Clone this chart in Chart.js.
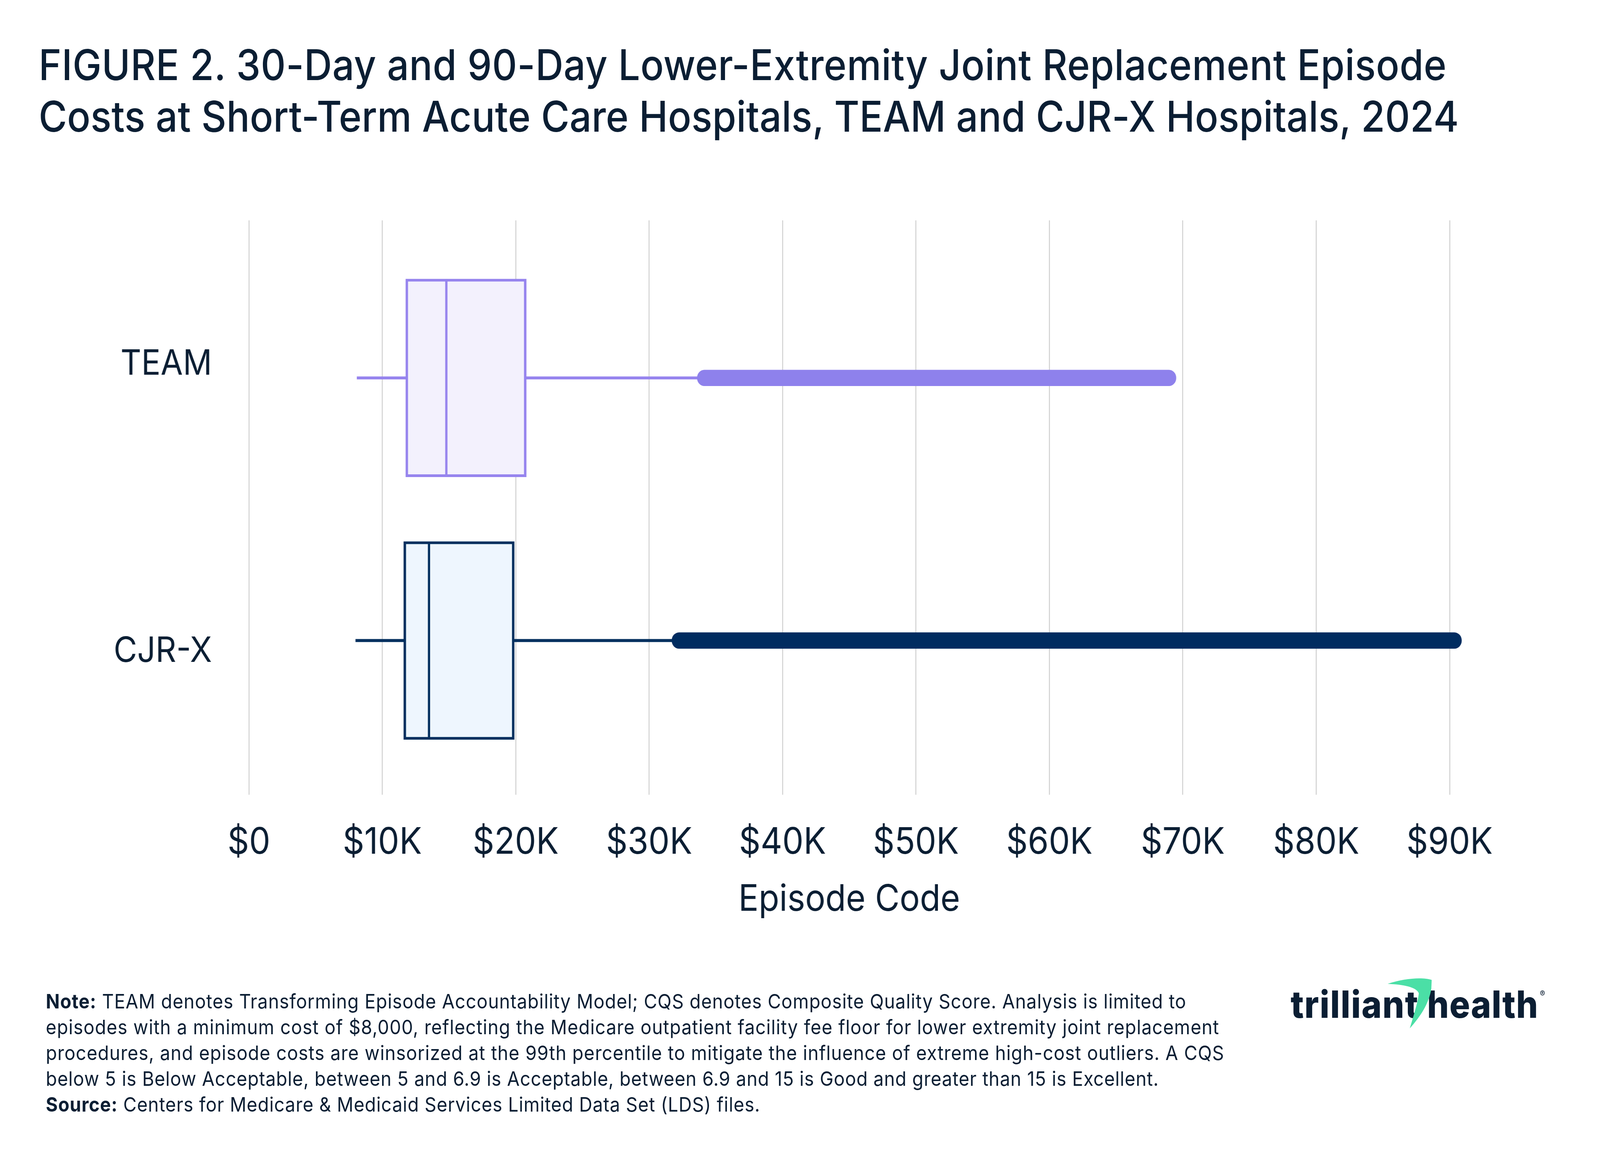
<!DOCTYPE html>
<html>
<head>
<meta charset="utf-8">
<script src="https://cdn.jsdelivr.net/npm/chart.js@4.4.1/dist/chart.umd.min.js"></script>
<style>
  html, body { margin: 0; padding: 0; background: #fff; overflow: hidden; }
  #page { width: 4468px; height: 2974px; position: absolute; left: 0; top: 0; transform-origin: 0 0;
          font-family: Inter, "DejaVu Sans", sans-serif; color: #0b1e33; }
  #chart { position: absolute; left: 0; top: 0; }
  .title { position: absolute; left: 108px; top: 100px; font-size: 108px; font-weight: 500;
           line-height: 132px; white-space: nowrap; }
  .note { position: absolute; left: 128px; top: 2530px; font-size: 51px; line-height: 66px;
          white-space: nowrap; }
  .note b { font-weight: 700; }
  .logo { position: absolute; top: 2522px; font-size: 96px; line-height: 96px; font-weight: 800;
          white-space: nowrap; }
  .reg { position: absolute; left: 4300px; top: 2530px; font-size: 22px; font-weight: 500; }
  #swoosh { position: absolute; left: 3860px; top: 2495px; }
</style>
</head>
<body>
<div id="page">
<canvas id="chart" width="4468" height="2974"></canvas>

<div class="title">
  <span class="fit" data-right="4040">FIGURE 2. 30-Day and 90-Day Lower-Extremity Joint Replacement Episode</span><br>
  <span class="fit" data-right="4074">Costs at Short-Term Acute Care Hospitals, TEAM and CJR-X Hospitals, 2024</span>
</div>

<div class="note">
  <span class="fit" data-right="3313"><b>Note:</b> TEAM denotes Transforming Episode Accountability Model; CQS denotes Composite Quality Score. Analysis is limited to</span><br>
  <span class="fit" data-right="3405">episodes with a minimum cost of $8,000, reflecting the Medicare outpatient facility fee floor for lower extremity joint replacement</span><br>
  <span class="fit" data-right="3419">procedures, and episode costs are winsorized at the 99th percentile to mitigate the influence of extreme high-cost outliers. A CQS</span><br>
  <span class="fit" data-right="3236">below 5 is Below Acceptable, between 5 and 6.9 is Acceptable, between 6.9 and 15 is Good and greater than 15 is Excellent.</span><br>
  <span class="fit" data-right="2123"><b>Source:</b> Centers for Medicare &amp; Medicaid Services Limited Data Set (LDS) files.</span>
</div>

<span class="logo fit" style="left:3604px" data-right="3962">trilliant</span>
<span class="logo fit" style="left:3985px" data-right="4296">health</span>
<span class="reg">®</span>
<svg id="swoosh" width="160" height="150" viewBox="3860 2495 160 150">
  <path fill="#4bdfa6" d="M3875 2518 C3920 2504 3972 2500 3998 2508 L3997 2530 C3990 2570 3966 2602 3937 2632 C3950 2592 3960 2562 3962 2542 C3955 2526 3920 2520 3875 2518 Z"/>
</svg>
</div>

<script>
// categories and box statistics (episode cost, $)
const categories = ['TEAM', 'CJR-X'];
const minCost = [8100, 8000];
const q1Cost = [11750, 11600];
const medianCost = [14800, 13500];
const q3Cost = [20800, 19900];
const upperWhisker = [33600, 31700];
const maxCost = [69500, 90900];

const xTickValues = [0, 10000, 20000, 30000, 40000, 50000, 60000, 70000, 80000, 90000];
const xTickLabels = ['$0', '$10K', '$20K', '$30K', '$40K', '$50K', '$60K', '$70K', '$80K', '$90K'];

const strokeColors = ['#9684ee', '#04305f'];
const fillColors = ['#f3f1fd', '#eef6fe'];
const heavyColors = ['#8e81ec', '#002c60'];
const textColor = '#0b1e33';

// the window may be narrower than the 4468x2974 design: stretch the design onto it
const sx = window.innerWidth / 4468;
const sy = window.innerHeight / 2974;
document.getElementById('page').style.transform = `scale(${sx}, ${sy})`;

const span = (lo, hi) => categories.map((c, i) => ({ y: i, x: [lo[i], hi[i]] }));

const common = { yAxisID: 'yb', xAxisID: 'x', grouped: false, borderSkipped: false };

new Chart(document.getElementById('chart'), {
  type: 'bar',
  data: {
    datasets: [
      { ...common, label: 'Q1-median', data: span(q1Cost, medianCost), order: 0,
        barThickness: 507, backgroundColor: fillColors, borderColor: strokeColors,
        borderWidth: { top: 7, bottom: 7, left: 7, right: 3.5 } },
      { ...common, label: 'median-Q3', data: span(medianCost, q3Cost), order: 0,
        barThickness: 507, backgroundColor: fillColors, borderColor: strokeColors,
        borderWidth: { top: 7, bottom: 7, left: 3.5, right: 7 } },
      { ...common, label: 'outliers', data: span(upperWhisker, maxCost), order: 1,
        barThickness: 41, borderRadius: 21, backgroundColor: heavyColors, borderWidth: 0, clip: false },
      { ...common, label: 'lower whisker', data: span(minCost, q1Cost), order: 2,
        barThickness: 7, backgroundColor: strokeColors, borderWidth: 0 },
      { ...common, label: 'upper whisker', data: span(q3Cost, upperWhisker), order: 2,
        barThickness: 7, backgroundColor: strokeColors, borderWidth: 0 }
    ]
  },
  options: {
    indexAxis: 'y',
    responsive: false,
    devicePixelRatio: 1,
    animation: false,
    layout: { padding: { top: 564, right: 420, bottom: 615, left: 0 } },
    plugins: { legend: { display: false }, tooltip: { enabled: false } },
    scales: {
      x: {
        type: 'linear', position: 'bottom', min: 0, max: 90000,
        afterBuildTicks: (s) => { s.ticks = xTickValues.map(v => ({ value: v })); },
        afterFit: (s) => { s.height = 325; },
        ticks: {
          callback: (v, i) => xTickLabels[i],
          font: { family: 'Inter', size: 94 }, color: textColor,
          padding: 66, maxRotation: 0, autoSkip: false, includeBounds: false
        },
        grid: { color: '#d5d5d5', lineWidth: 3, drawTicks: false },
        border: { display: false },
        title: { display: true, text: 'Episode Code', color: textColor,
                 font: { family: 'Inter', size: 94 }, padding: 0 }
      },
      y: {
        type: 'category', labels: categories, position: 'left', offset: true,
        afterFit: (s) => { s.width = 695; },
        ticks: { font: { family: 'Inter', size: 90 }, color: textColor, padding: 103 },
        grid: { display: false, drawTicks: false },
        border: { display: false }
      },
      yb: { type: 'linear', display: false, reverse: true, offset: false,
            grid: { offset: false }, min: -0.6, max: 1.587 }
    }
  }
});

// stretch each text line to its width in the original layout
document.fonts.ready.then(() => {
  document.querySelectorAll('.fit').forEach(el => {
    const right = el.getBoundingClientRect().right / sx;
    const n = el.textContent.length;
    el.style.letterSpacing = ((+el.dataset.right - right) / n) + 'px';
  });
});
</script>
</body>
</html>
